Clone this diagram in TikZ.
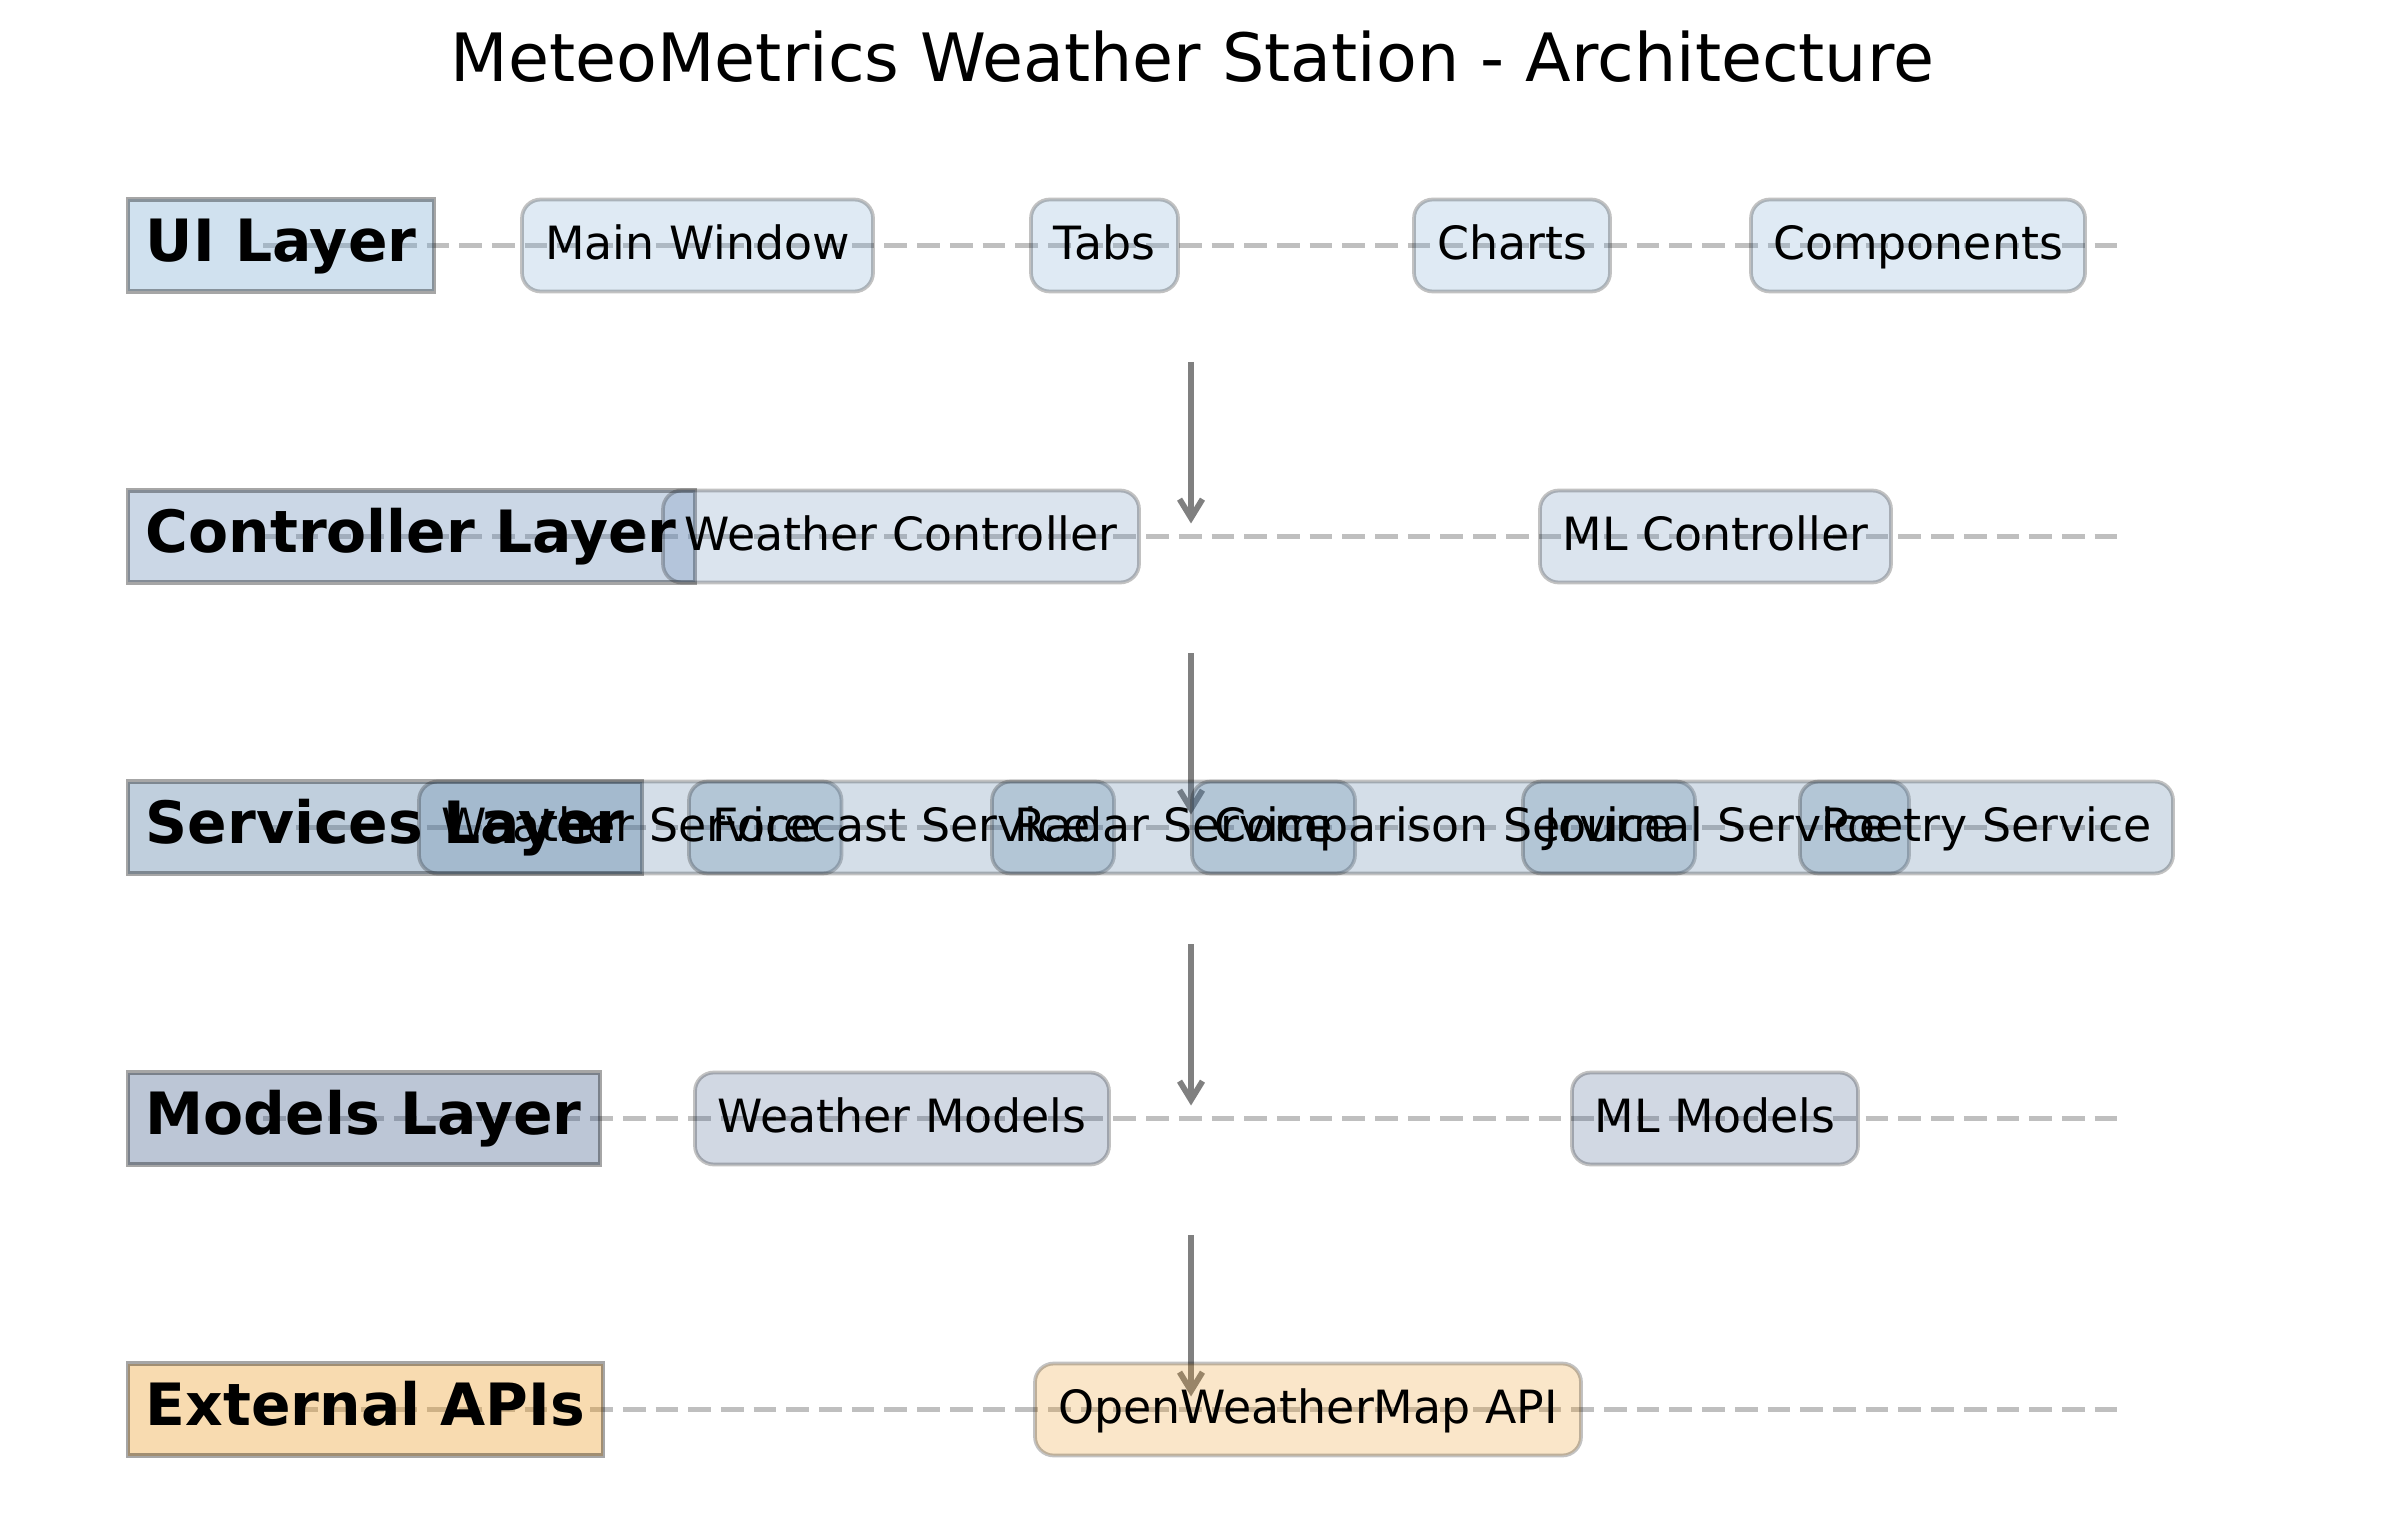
\documentclass[tikz,border=0pt]{standalone}
\usepackage{fontspec}
\setmainfont{DejaVu Sans}
\usetikzlibrary{arrows.meta,fit}
\pgfdeclarelayer{fg}
\pgfsetlayers{main,fg}
\definecolor{cui}{HTML}{79A9D1}
\definecolor{cctrl}{HTML}{6A8DB8}
\definecolor{csvc}{HTML}{4B769E}
\definecolor{cmod}{HTML}{405C8A}
\definecolor{cext}{HTML}{EB981D}
\definecolor{dashgray}{HTML}{BFBFBF}
\definecolor{arrgray}{HTML}{808080}
\tikzset{
  layerbox/.style={rectangle, draw=black, line width=1pt, opacity=0.35, inner sep=0pt},
  compbox/.style={rectangle, rounded corners=4.5pt, draw=black, line width=0.9pt, opacity=0.24, inner sep=0pt},
  layertext/.style={inner sep=0pt, font=\fontsize{14}{17}\selectfont\bfseries, text=black},
  comptext/.style={inner sep=0pt, font=\fontsize{11}{13}\selectfont, text=black},
  titletext/.style={inner sep=0pt, font=\fontsize{16}{19}\selectfont, text=black},
  dashline/.style={draw=dashgray, line width=1.4pt, dash pattern=on 5.45pt off 2.4pt},
  flowarrow/.style={draw=arrgray, line width=1.4pt, -{Straight Barb[length=4.5pt,width=5.5pt]}}
}
% name, x1, x2, yc, color, text
\newcommand\compnode[6]{%
  \node[compbox, fill=#5, fit={(#2,#4-46) (#3,#4+46)}] (#1) {};
  \begin{pgfonlayer}{fg}
    \node[comptext, anchor=base] (#1t) at ([yshift=-3.3pt]#1.center) {#6};
  \end{pgfonlayer}}
% name, x2, yc, color, text
\newcommand\layernode[5]{%
  \node[layerbox, fill=#4, fit={(128,#3-46) (#2,#3+46)}] (#1) {};
  \begin{pgfonlayer}{fg}
    \node[layertext, anchor=base west] (#1t) at (145,#3+16) {#5};
  \end{pgfonlayer}}
\begin{document}
\begin{tikzpicture}[x=0.24pt,y=-0.24pt]
\useasboundingbox (0,0) rectangle (2385,1523);
\node[titletext, anchor=base] (title) at (1192.5,82) {MeteoMetrics Weather Station - Architecture};
% dashed guide lines
\foreach \i/\yy in {1/245.5,2/536.5,3/827.5,4/1118.5,5/1409.5}{
  \coordinate (ds\i) at (263,\yy);
  \coordinate (de\i) at (2122,\yy);
  \draw[dashline] (ds\i) -- (de\i);
}
% arrows between layers
\foreach \i/\ya/\yb in {1/362/523.5,2/653/814.5,3/944/1105.5,4/1235/1396.5}{
  \coordinate (as\i) at (1191,\ya);
  \coordinate (ae\i) at (1191,\yb);
  \draw[flowarrow] (as\i) -- (ae\i);
}
% UI layer
\layernode{ui}{434}{245.5}{cui}{UI Layer}
\compnode{mainwin}{522}{873}{245.5}{cui}{Main Window}
\compnode{tabs}{1031}{1178}{245.5}{cui}{Tabs}
\compnode{charts}{1414}{1610}{245.5}{cui}{Charts}
\compnode{components}{1751}{2085}{245.5}{cui}{Components}
% Controller layer
\layernode{ctrl}{695}{536.5}{cctrl}{Controller Layer}
\compnode{wctrl}{663}{1139}{536.5}{cctrl}{Weather Controller}
\compnode{mlctrl}{1540}{1891}{536.5}{cctrl}{ML Controller}
% Services layer
\layernode{svc}{642}{827.5}{csvc}{Services Layer}
\compnode{wsvc}{419}{841.5}{827.5}{csvc}{Weather Service}
\compnode{fsvc}{689}{1114}{827.5}{csvc}{Forecast Service}
\compnode{rsvc}{992}{1355}{827.5}{csvc}{Radar Service}
\compnode{csvcn}{1192}{1695}{827.5}{csvc}{Comparison Service}
\compnode{jsvc}{1523}{1909}{827.5}{csvc}{Journal Service}
\compnode{psvc}{1800}{2173}{827.5}{csvc}{Poetry Service}
% Models layer
\layernode{models}{600}{1118.5}{cmod}{Models Layer}
\compnode{wmod}{695}{1109}{1118.5}{cmod}{Weather Models}
\compnode{mlmod}{1572}{1858}{1118.5}{cmod}{ML Models}
% External APIs
\layernode{ext}{603}{1409.5}{cext}{External APIs}
\compnode{owm}{1035}{1581}{1409.5}{cext}{OpenWeatherMap API}
\end{tikzpicture}
\end{document}
